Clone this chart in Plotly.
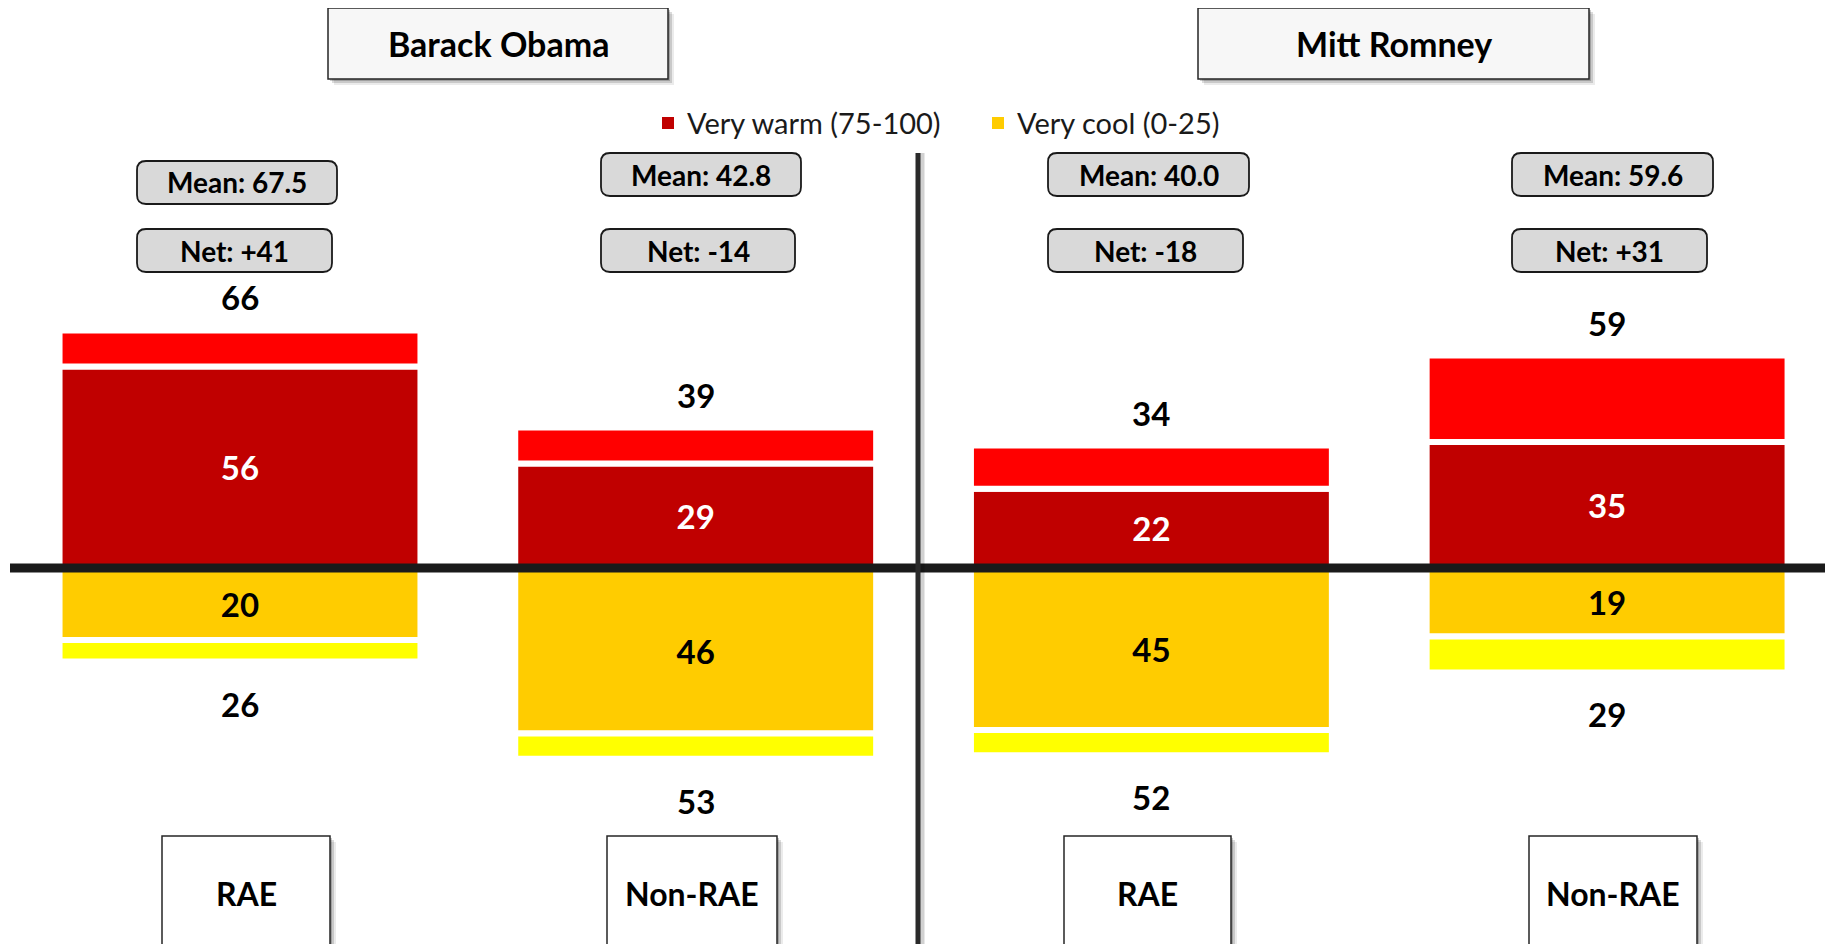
import plotly.graph_objects as go

W, H = 1833, 944
FONT = "Lato"
OFF = 8  # the page body adds an 8px margin; shift everything back by it

# data
candidates = ["Barack Obama", "Mitt Romney"]
groups = ["RAE", "Non-RAE", "RAE", "Non-RAE"]
very_warm = [56, 29, 22, 35]
warm_total = [66, 39, 34, 59]
very_cool = [20, 46, 45, 19]
cool_total = [26, 53, 52, 29]
means = ["67.5", "42.8", "40.0", "59.6"]
nets = ["+41", "-14", "-18", "+31"]
legend_names = ["Very warm (75-100)", "Very cool (0-25)"]

warm_rest = [t - v for t, v in zip(warm_total, very_warm)]
cool_rest = [t - v for t, v in zip(cool_total, very_cool)]
xs = list(range(len(groups)))

# pixel helpers (plot area fills the whole page)
def px(x):
    return (x - OFF) / W

def py(y):
    return 1 - (y - OFF) / H

def rrect(x0, y0, x1, y1, r):
    pts = [("M", x0 + r, y0), ("L", x1 - r, y0), ("Q", x1, y0, x1, y0 + r),
           ("L", x1, y1 - r), ("Q", x1, y1, x1 - r, y1), ("L", x0 + r, y1),
           ("Q", x0, y1, x0, y1 - r), ("L", x0, y0 + r), ("Q", x0, y0, x0 + r, y0)]
    out = ""
    for p in pts:
        cmd, vals = p[0], p[1:]
        coords = []
        for i in range(0, len(vals), 2):
            coords.append("%.5f,%.5f" % (px(vals[i]), py(vals[i + 1])))
        out += cmd + " ".join(coords) + " "
    return out + "Z"

X0, DX = 240 - OFF, 455.7   # pixel centre of first bar, pixels per category
Y0, DY = 568 - OFF, 3.6     # pixel of zero line, pixels per point
BW = 0.792

fig = go.Figure()
bar_line = dict(color="white", width=6)
fig.add_trace(go.Bar(x=xs, y=very_warm, width=BW, name=legend_names[0], marker=dict(color="#C00000", line=bar_line),
                     text=very_warm, textposition="inside", insidetextanchor="middle", constraintext="none",
                     textangle=0, textfont=dict(family=FONT, size=33, color="white", weight="bold"), showlegend=False))
fig.add_trace(go.Bar(x=xs, y=warm_rest, width=BW, name="Warm", marker=dict(color="#FF0000", line=bar_line),
                     showlegend=False))
fig.add_trace(go.Bar(x=xs, y=[-v for v in very_cool], width=BW, name=legend_names[1],
                     marker=dict(color="#FFCC00", line=bar_line), text=very_cool, textposition="inside",
                     insidetextanchor="middle", constraintext="none", textangle=0,
                     textfont=dict(family=FONT, size=33, color="black", weight="bold"), showlegend=False))
fig.add_trace(go.Bar(x=xs, y=[-v for v in cool_rest], width=BW, name="Cool", marker=dict(color="#FFFF00", line=bar_line),
                     showlegend=False))

shapes = []
ann = []

def label(x, y, text, size, anchor="center", color="black"):
    ann.append(dict(x=px(x), y=py(y), xref="paper", yref="paper", text=text, showarrow=False,
                    xanchor=anchor, yanchor="middle", font=dict(family=FONT, size=size, color=color)))

# totals above / below the bars
for i in xs:
    ann.append(dict(x=i, y=warm_total[i], xref="x", yref="y", text="<b>%d</b>" % warm_total[i], showarrow=False,
                    xanchor="center", yanchor="middle", yshift=33, font=dict(family=FONT, size=33, color="black")))
    ann.append(dict(x=i, y=-cool_total[i], xref="x", yref="y", text="<b>%d</b>" % cool_total[i], showarrow=False,
                    xanchor="center", yanchor="middle", yshift=-42, font=dict(family=FONT, size=33, color="black")))

def shadowed(x0, y0, x1, y1, fill):
    for off, a in [(6, 0.08), (4, 0.14), (2, 0.2)]:
        shapes.append(dict(type="rect", xref="paper", yref="paper", x0=px(x0 + off), x1=px(x1 + off),
                           y0=py(y0 + off), y1=py(y1 + off), fillcolor="rgba(0,0,0,%s)" % a, line=dict(width=0)))
    shapes.append(dict(type="rect", xref="paper", yref="paper", x0=px(x0), x1=px(x1), y0=py(y0), y1=py(y1),
                       fillcolor=fill, line=dict(color="#262626", width=1.5)))

# candidate title boxes
title_boxes = [(328, 8, 668, 79), (1198, 8, 1589, 79)]
for name, (x0, y0, x1, y1) in zip(candidates, title_boxes):
    shadowed(x0, y0, x1, y1, "#f7f7f7")
    label((x0 + x1) / 2, (y0 + y1) / 2, "<b>%s</b>" % name, 34)

# mean / net boxes
mean_boxes = [(137, 161, 337, 204), (601, 153, 801, 196), (1048, 153, 1249, 196), (1512, 153, 1713, 196)]
net_boxes = [(137, 229, 332, 272), (601, 229, 795, 272), (1048, 229, 1243, 272), (1512, 229, 1707, 272)]
for i in xs:
    for (x0, y0, x1, y1), txt in [(mean_boxes[i], "Mean: " + means[i]), (net_boxes[i], "Net: " + nets[i])]:
        shapes.append(dict(type="path", path=rrect(x0, y0, x1, y1, 9), xref="paper", yref="paper",
                           fillcolor="#d9d9d9", line=dict(color="#1a1a1a", width=1.8)))
        label((x0 + x1) / 2, (y0 + y1) / 2, "<b>%s</b>" % txt, 28)

# category boxes at the bottom
cat_boxes = [(162, 330), (607, 777), (1064, 1231), (1529, 1697)]
for i, (x0, x1) in enumerate(cat_boxes):
    shadowed(x0, 836, x1, 980, "white")
    label((x0 + x1) / 2, 893, "<b>%s</b>" % groups[i], 32)

# legend
leg = [(662, 685, "#C00000"), (992, 1015, "#FFCC00")]
for (sx, tx, col), name in zip(leg, legend_names):
    shapes.append(dict(type="rect", xref="paper", yref="paper", x0=px(sx), x1=px(sx + 12), y0=py(117),
                       y1=py(129), fillcolor=col, line=dict(width=0)))
    label(tx, 122, name, 29, anchor="left", color="#1a1a1a")

# zero line and divider
shapes.append(dict(type="line", xref="paper", yref="y", x0=px(10), x1=px(1828), y0=0, y1=0,
                   line=dict(color="#1a1a1a", width=9)))
shapes.append(dict(type="line", xref="paper", yref="paper", x0=px(922), x1=px(922), y0=py(153), y1=0,
                   line=dict(color="rgba(0,0,0,0.18)", width=5)))
shapes.append(dict(type="line", xref="paper", yref="paper", x0=px(918), x1=px(918), y0=py(153), y1=0,
                   line=dict(color="#2a2a2a", width=5)))

fig.update_layout(
    width=W, height=H,
    margin=dict(l=0, r=0, t=0, b=0),
    paper_bgcolor="white", plot_bgcolor="white",
    barmode="relative",
    xaxis=dict(range=[-X0 / DX, (W - X0) / DX], visible=False, fixedrange=True),
    yaxis=dict(range=[-(H - Y0) / DY, Y0 / DY], visible=False, fixedrange=True),
    shapes=shapes, annotations=ann,
    showlegend=False,
)

fig.write_html("out.html")
